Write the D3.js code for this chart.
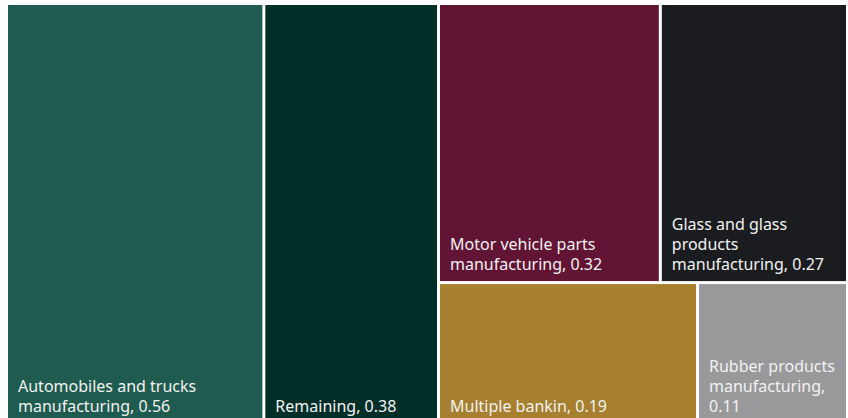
<!DOCTYPE html>
<html>
<head>
<meta charset="utf-8">
<script src="https://cdn.jsdelivr.net/npm/d3@7"></script>
<style>
  body { margin: 0; background: #fff; }
  text { font-family: "Noto Sans", sans-serif; }
</style>
</head>
<body>
<div id="chart"></div>
<script>
var categories = ["Automobiles and trucks manufacturing", "Remaining", "Motor vehicle parts manufacturing",
                  "Glass and glass products manufacturing", "Multiple bankin", "Rubber products manufacturing"];
var values = [0.56, 0.38, 0.32, 0.27, 0.19, 0.11];
var colors = ["#1f5b4e", "#022e28", "#621434", "#1a1c1f", "#a6802e", "#99999b"];

var width = 848, height = 418;

var svg = d3.select("#chart").append("svg")
  .attr("width", width)
  .attr("height", height);

var data = {
  name: "root",
  children: categories.map(function (c, i) { return { name: c, value: values[i], color: colors[i] }; })
};

// squarify rows, but lay each row out side by side
function tile(parent, x0, y0, x1, y1) {
  d3.treemapResquarify(parent, x0, y0, x1, y1);
  parent._squarify.forEach(function (row) {
    var bx0 = d3.min(row.children, function (d) { return d.x0; }),
        by0 = d3.min(row.children, function (d) { return d.y0; }),
        bx1 = d3.max(row.children, function (d) { return d.x1; }),
        by1 = d3.max(row.children, function (d) { return d.y1; });
    d3.treemapDice(row, bx0, by0, bx1, by1);
  });
  delete parent._squarify;
}

var root = d3.hierarchy(data).sum(function (d) { return d.value || 0; })
  .sort(function (a, b) { return b.value - a.value; });

d3.treemap()
  .size([838, 418])
  .paddingInner(3)
  .tile(tile)(root);

var g = svg.append("g").attr("transform", "translate(8,5)");

var cell = g.selectAll("g.cell")
  .data(root.leaves())
  .enter()
  .append("g")
  .attr("class", "cell");

cell.append("rect")
  .attr("x", function (d) { return d.x0; })
  .attr("y", function (d) { return d.y0; })
  .attr("width", function (d) { return d.x1 - d.x0; })
  .attr("height", function (d) { return d.y1 - d.y0; })
  .style("fill", function (d) { return d.data.color; });

cell.each(function (d) {
  var el = d3.select(this);
  var maxW = d.x1 - d.x0 - 20;
  var words = (d.data.name + ", " + d.data.value).split(" ");
  var probe = el.append("text").style("font-size", "16px");
  var lines = [], line = [];
  words.forEach(function (w) {
    var test = line.concat([w]).join(" ");
    probe.text(test);
    if (line.length && probe.node().getComputedTextLength() > maxW) {
      lines.push(line.join(" "));
      line = [w];
    } else {
      line.push(w);
    }
  });
  lines.push(line.join(" "));
  probe.remove();

  var lh = 20;
  el.selectAll("text.lbl")
    .data(lines)
    .enter()
    .append("text")
    .attr("class", "lbl")
    .attr("x", d.x0 + 10)
    .attr("y", function (t, i) { return d.y1 - 11 - (lines.length - 1 - i) * lh; })
    .style("font-size", "16px")
    .style("fill", "#f2f2f2")
    .text(function (t) { return t; });
});
</script>
</body>
</html>
